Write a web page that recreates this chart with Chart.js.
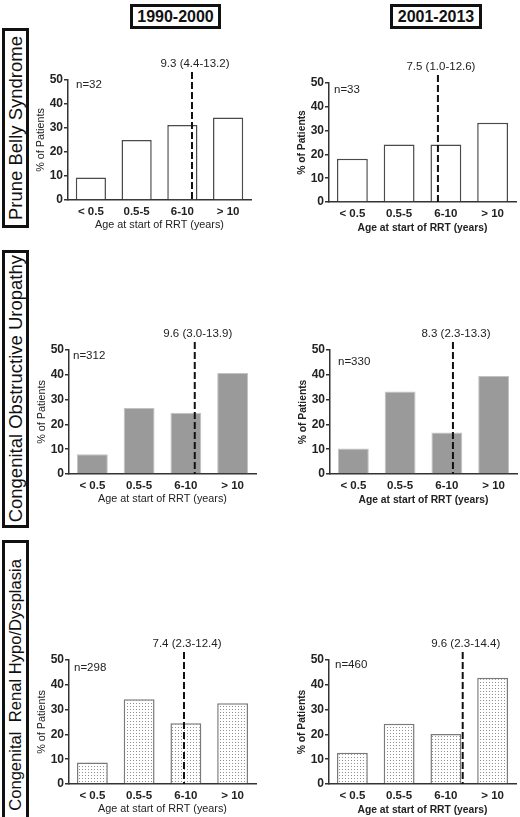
<!DOCTYPE html>
<html>
<head>
<meta charset="utf-8">
<script src="https://cdn.jsdelivr.net/npm/chart.js@4.4.1/dist/chart.umd.min.js"></script>
<style>
  body { margin: 0; background: #fff; width: 520px; height: 817px; overflow: hidden; position: relative;
         font-family: 'Liberation Sans', Arial, sans-serif; color: #111; }
  .period { position: absolute; top: 4px; height: 25px; border: 3px solid #111; box-sizing: border-box;
            font-weight: bold; font-size: 16px; line-height: 19px; text-align: center; }
  .row { position: absolute; left: 2px; width: 27px; border: 3px solid #111; box-sizing: border-box;
         display: flex; align-items: center; justify-content: center; overflow: hidden; }
  .row span { writing-mode: vertical-rl; transform: rotate(180deg); white-space: pre; line-height: 20px; }
  canvas { position: absolute; }
</style>
</head>
<body>
<div class="period" id="p0" style="left:130px;width:91px"></div>
<div class="period" id="p1" style="left:390px;width:92px"></div>
<div class="row" style="top:28px;height:200px"><span id="r0" style="font-size:18.5px"></span></div>
<div class="row" style="top:250px;height:278px"><span id="r1" style="font-size:18.5px"></span></div>
<div class="row" style="top:540px;height:290px"><span id="r2" style="font-size:16.6px"></span></div>

<script>
const ageGroups = ['< 0.5', '0.5-5', '6-10', '> 10'];
const periods = ['1990-2000', '2001-2013'];
const diagnoses = ['Prune Belly Syndrome', 'Congenital Obstructive Uropathy', 'Congenital  Renal Hypo/Dysplasia'];

// % of patients per age group
const pruneBelly1990 = [9.4, 25.0, 31.3, 34.4];
const pruneBelly2001 = [18.2, 24.2, 24.2, 33.3];
const obstructive1990 = [8.0, 26.6, 24.7, 40.7];
const obstructive2001 = [10.3, 33.3, 16.7, 39.5];
const hypoDysplasia1990 = [8.7, 34.2, 24.5, 32.6];
const hypoDysplasia2001 = [12.6, 24.3, 20.2, 42.8];

const sampleSizes = ['n=32', 'n=33', 'n=312', 'n=330', 'n=298', 'n=460'];
const medianLabels = ['9.3 (4.4-13.2)', '7.5 (1.0-12.6)', '9.6 (3.0-13.9)', '8.3 (2.3-13.3)', '7.4 (2.3-12.4)', '9.6 (2.3-14.4)'];
// median age position along the category axis (category index units)
const medianAt = [2.21, 1.83, 2.19, 2.13, 1.96, 2.36];

const series = [pruneBelly1990, pruneBelly2001, obstructive1990, obstructive2001, hypoDysplasia1990, hypoDysplasia2001];

document.getElementById('p0').textContent = periods[0];
document.getElementById('p1').textContent = periods[1];
diagnoses.forEach((d, i) => document.getElementById('r' + i).textContent = d);

// plot area of each panel on the page
const boxes = [
  { left: 68, right: 251, top: 80, bottom: 200, nx: 8, ny: 5 },
  { left: 329, right: 516, top: 83, bottom: 202, nx: 5, ny: 7 },
  { left: 69, right: 256, top: 350, bottom: 474, nx: 4, ny: 6 },
  { left: 330, right: 517, top: 350, bottom: 474, nx: 8, ny: 12 },
  { left: 69, right: 256, top: 660, bottom: 784, nx: 5, ny: 8 },
  { left: 329, right: 516, top: 660, bottom: 784, nx: 6, ny: 5 }
];

const FONT = "'Liberation Sans', Arial, sans-serif";

const markers = {
  id: 'markers',
  afterDatasetsDraw(chart, args, o) {
    const { ctx, chartArea: a } = chart;
    const px = chart.scales.x.getPixelForValue(o.median);
    ctx.save();
    ctx.strokeStyle = '#111';
    ctx.lineWidth = 2;
    ctx.setLineDash([7, 3]);
    ctx.beginPath();
    ctx.moveTo(px, a.top - 8);
    ctx.lineTo(px, a.bottom);
    ctx.stroke();
    ctx.setLineDash([]);
    ctx.fillStyle = '#222';
    ctx.font = '11.5px ' + FONT;
    ctx.textAlign = 'center';
    ctx.textBaseline = 'middle';
    ctx.fillText(o.label, px + 3, a.top - 16);
    ctx.textAlign = 'left';
    ctx.fillText(o.n, a.left + o.nx, a.top + o.ny);
    ctx.restore();
  }
};

function dotPattern(ctx) {
  const t = document.createElement('canvas');
  t.width = 3; t.height = 3;
  const g = t.getContext('2d');
  g.fillStyle = '#fff';
  g.fillRect(0, 0, 3, 3);
  g.fillStyle = '#8f8f8f';
  g.fillRect(1, 1, 1, 1);
  return ctx.createPattern(t, 'repeat');
}

series.forEach((values, i) => {
  const b = boxes[i];
  const row = Math.floor(i / 2), right = i % 2 === 1;
  const cv = document.createElement('canvas');
  cv.width = b.right - b.left + 47;
  cv.height = b.bottom - b.top + 64;
  cv.style.left = (b.left - 42) + 'px';
  cv.style.top = (b.top - 30) + 'px';
  document.body.appendChild(cv);
  const ctx = cv.getContext('2d');

  let fill = '#fff', edge = '#4a4a4a', bw = 1.5;
  if (row === 1) { fill = '#9a9a9a'; edge = '#c2c2c2'; bw = 1; }
  if (row === 2) { fill = dotPattern(ctx); edge = '#7a7a7a'; bw = 1.5; }

  const titleFont = right ? { family: FONT, size: 10.3, weight: 'bold' } : { family: FONT, size: 10.8 };

  new Chart(ctx, {
    type: 'bar',
    data: {
      labels: ageGroups,
      datasets: [{
        data: values,
        backgroundColor: fill,
        borderColor: edge,
        borderWidth: bw,
        barPercentage: 0.66,
        categoryPercentage: 1
      }]
    },
    options: {
      responsive: false,
      animation: false,
      layout: { padding: { left: 9, top: 30, right: 5, bottom: 2 } },
      plugins: {
        legend: { display: false },
        tooltip: { enabled: false },
        markers: { median: medianAt[i], label: medianLabels[i], n: sampleSizes[i], nx: b.nx, ny: b.ny }
      },
      scales: {
        x: {
          grid: { display: false, drawTicks: false },
          border: { display: true, color: '#333', width: 1.5 },
          ticks: { color: '#222', font: { family: FONT, size: 11.5, weight: 'bold' }, padding: 5, maxRotation: 0, autoSkip: false },
          title: { display: true, text: 'Age at start of RRT (years)', color: '#222', font: titleFont, padding: 0 },
          afterFit(s) { s.height = 32; }
        },
        y: {
          min: 0, max: 50,
          ticks: { stepSize: 10, color: '#222', font: { family: FONT, size: 12, weight: 'bold' }, padding: 1 },
          grid: { drawOnChartArea: false, drawTicks: true, tickLength: 4, color: '#333', lineWidth: 1.5 },
          border: { display: true, color: '#333', width: 1.5 },
          title: { display: true, text: '% of Patients', color: '#222', font: titleFont, padding: 0 },
          afterFit(s) { s.width = 33; }
        }
      }
    },
    plugins: [markers]
  });
});
</script>
</body>
</html>
